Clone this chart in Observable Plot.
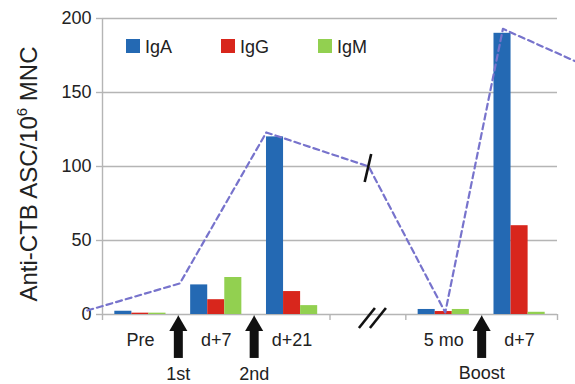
<!DOCTYPE html>
<html><head><meta charset="utf-8">
<script src="https://cdn.jsdelivr.net/npm/d3@7"></script>
<script src="https://cdn.jsdelivr.net/npm/@observablehq/plot@0.6"></script>
<style>
body{margin:0;background:#fff;}
#chart{position:relative;width:575px;height:384px;overflow:hidden;}
</style>
</head><body><div id="chart"></div>
<script>
// ---- data ----
const categories = ["Pre", "d+7", "d+21", "", "5 mo", "d+7"];
const seriesNames = ["IgA", "IgG", "IgM"];
const IgA = [2.2, 20, 120, null, 3.4, 190];
const IgG = [0.9, 10, 15.5, null, 2, 60];
const IgM = [0.9, 25, 6, null, 3.4, 1.5];
const colors = ["#2469b3", "#d8261c", "#92d050"];
const lineX = [-0.2, 1.02, 2.16, 3.51, 4.52, 5.28, 6.24];
const lineY = [2.7, 21, 123, 100, 1.4, 193, 171];
const doseX = [1, 2, 5];
const doseLabels = ["1st", "2nd", "Boost"];
const doseLabelY = [-40.4, -40.4, -39.6];
const yTicks = [0, 50, 100, 150, 200];

const seriesValues = [IgA, IgG, IgM];
const barW = 0.225;
const bars = categories.flatMap((c, i) =>
  seriesValues.map((arr, k) => ({slot: i, k, series: seriesNames[k], value: arr[i]}))
).filter(d => d.value != null);
const lineData = lineX.map((x, i) => ({x, y: lineY[i]}));

const grey = "#b5b5b5";
const font = "'Liberation Sans', Arial, Helvetica, sans-serif";

const chart = Plot.plot({
  width: 575,
  height: 384,
  marginLeft: 102,
  marginRight: 18,
  marginTop: 18,
  marginBottom: 70,
  style: {fontFamily: font, fontSize: "18px", color: "#222", background: "#fff", overflow: "visible"},
  x: {domain: [0, 6]},
  y: {domain: [0, 200]},
  color: {domain: seriesNames, range: colors},
  marks: [
    Plot.gridY({ticks: yTicks.slice(1), stroke: grey, strokeOpacity: 1, strokeWidth: 1.4}),
    Plot.axisY({ticks: yTicks, tickSize: 6, tickPadding: 5, stroke: grey, strokeWidth: 1.4, label: null, fill: "#222"}),
    Plot.axisX({ticks: d3.range(0, 7), tickSize: 6, tickFormat: () => "", stroke: grey, strokeWidth: 1.4, label: null}),
    Plot.axisX({ticks: categories.map((c, i) => i + 0.5).filter((t, i) => categories[i] !== ""),
      tickSize: 0, tickPadding: 19, tickFormat: t => categories[Math.floor(t)], label: null, fill: "#222"}),
    Plot.ruleY([0], {stroke: grey, strokeWidth: 1.4}),
    Plot.ruleX([0], {stroke: grey, strokeWidth: 1.4}),
    Plot.rect(bars, {
      x1: d => d.slot + 0.5 + (d.k - 1.5) * barW,
      x2: d => d.slot + 0.5 + (d.k - 0.5) * barW,
      y1: 0, y2: "value", fill: "series"
    }),
    Plot.line(lineData, {x: "x", y: "y", stroke: "#7773cc", strokeWidth: 2.2, strokeDasharray: "6,4"}),
    Plot.ruleX(doseX, {y1: -29.7, y2: -9, stroke: "#111", strokeWidth: 9}),
    Plot.dot(doseX, {x: d => d, y: -7.7, symbol: "triangle", r: 6.7, fill: "#111", stroke: null}),
    Plot.text(doseX, {x: d => d, y: (d, i) => doseLabelY[i], text: (d, i) => doseLabels[i], fill: "#222", fontSize: 18})
  ]
});

document.getElementById("chart").appendChild(chart);

// annotations that use Plot's own scales
const sx = chart.scale("x"), sy = chart.scale("y");
const svg = d3.select(chart);
const g = svg.append("g").attr("stroke", "#111").attr("stroke-width", 2.6).attr("stroke-linecap", "butt");
// axis break "//"
const bx = sx.apply(3.5) + 5, by = sy.apply(0) + 4;
[-5.5, 5.5].forEach(off => {
  g.append("line").attr("x1", bx + off - 8).attr("y1", by + 10).attr("x2", bx + off + 8).attr("y2", by - 10);
});
// break slash on the dashed line
const lx = sx.apply(lineX[3]), ly = sy.apply(lineY[3]);
g.append("line").attr("x1", lx - 3.5).attr("y1", ly + 16).attr("x2", lx + 3).attr("y2", ly - 12);

// y axis title with superscript
const t = svg.append("text")
  .attr("transform", `translate(37,${(sy.apply(0) + sy.apply(200)) / 2 + 8}) rotate(-90)`)
  .attr("text-anchor", "middle")
  .attr("font-family", font).attr("font-size", 24).attr("fill", "#222");
t.append("tspan").text("Anti-CTB ASC/10");
t.append("tspan").attr("dy", -10).attr("font-size", 15).text("6");
t.append("tspan").attr("dy", 10).text(" MNC");

// legend
const legendX = [126, 221, 318];
seriesNames.forEach((s, i) => {
  svg.append("rect").attr("x", legendX[i]).attr("y", 39).attr("width", 14).attr("height", 14).attr("fill", colors[i]);
  svg.append("text").attr("x", legendX[i] + 19).attr("y", 53).attr("text-anchor", "start")
    .attr("font-family", font).attr("font-size", 18).attr("fill", "#222").text(s);
});
</script>
</body></html>
